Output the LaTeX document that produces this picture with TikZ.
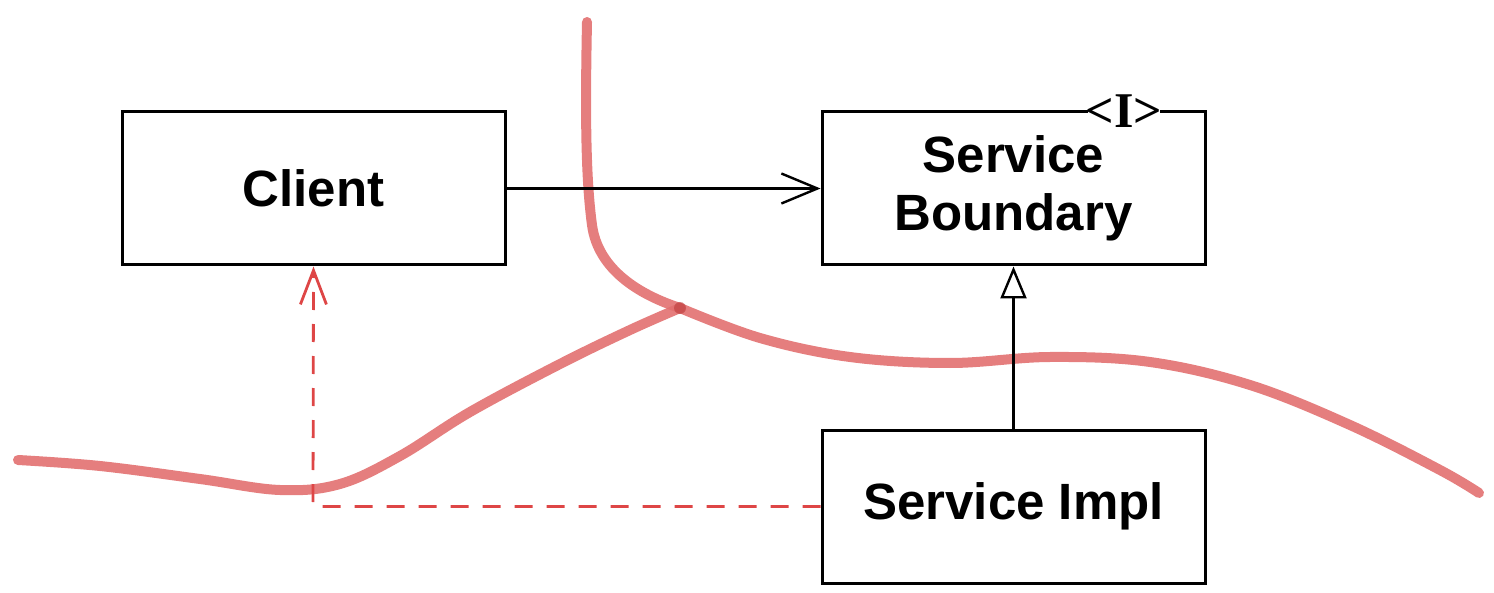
\documentclass[tikz,border=0pt]{standalone}
\usepackage{fontspec}
\setmainfont{Liberation Sans}
\newfontfamily\markfont{Liberation Serif}
\usetikzlibrary{arrows.meta}
\definecolor{redline}{RGB}{226,112,112}
\definecolor{reddash}{RGB}{222,70,70}
\tikzset{
  box/.style={draw=black, line width=1.5pt, minimum width=191.5pt, minimum height=76.5pt, inner sep=0pt, font=\bfseries\fontsize{25.5pt}{29pt}\selectfont, align=center},
  conn/.style={draw=black, line width=1.2pt},
  dep/.style={draw=reddash, line width=1.4pt, dash pattern=on 9pt off 7pt},
  boundary/.style={draw=redline, line width=5pt, line cap=round, opacity=0.9},
}
\begin{document}
\begin{tikzpicture}[x=0.5pt, y=-0.5pt]
\useasboundingbox (0,0) rectangle (1494,593);
\node[box] (client) at (313.5,188.5) {Client};
\node[box, draw=none] (sb) at (1013.5,188.5) {Service\\Boundary};
\draw[line width=1.5pt] (1088,112) -- (822,112) -- (822,265) -- (1205,265) -- (1205,112) -- (1160,112);
\node[inner sep=0pt, font=\markfont\bfseries\fontsize{25pt}{25pt}\selectfont] (mark) at (1124,111) {<I>};
\node[box] (si) at (1013.5,506.5) {Service Impl};
\coordinate (corner) at (313,506.5);
\coordinate (junction) at (680,308);
% boundary curves
\draw[boundary] (587,22) .. controls (585,120) and (586,180) .. (592,225) .. controls (598,270) and (640,295) .. (junction);
\draw[boundary] plot[smooth, tension=0.6] coordinates {(680,308) (760,338) (850,357) (950,363) (1050,357) (1150,362) (1250,385) (1350,425) (1440,470) (1479,493)};
\draw[boundary] plot[smooth, tension=0.6] coordinates {(18,460) (100,466) (200,479) (280,490) (340,484) (400,456) (470,412) (560,364) (630,330) (680,308)};
\fill[reddash!85!black, opacity=0.6] (junction) circle (6);
% connectors
\draw[conn, -{Straight Barb[length=18pt, width=15pt, line width=1.2pt]}] (client.east) -- (sb.west);
\draw[conn, -{Triangle[open, length=16pt, width=13pt, line width=1.2pt]}] (si.north) -- (sb.south);
\draw[dep, -{Straight Barb[length=17pt, width=13pt, line width=1.4pt, sep=0pt]}] (si.west) -- (corner) -- (client.south);
\end{tikzpicture}
\end{document}
